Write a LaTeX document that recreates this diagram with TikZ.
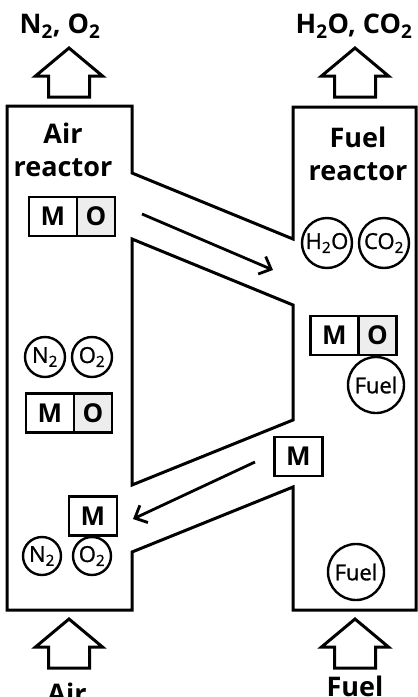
\documentclass[tikz,border=0pt]{standalone}
\usepackage{fontspec}
\setmainfont{Open Sans}
\newfontfamily\gasfont[FakeBold=1.2]{Open Sans}
\usetikzlibrary{arrows.meta,positioning}

\tikzset{
  wall/.style={line width=3pt, line join=miter},
  flow/.style={line width=2.8pt, -{Straight Barb[length=10pt,width=19pt]}},
  mpart/.style={draw, line width=2.6pt, minimum width=48, minimum height=39,
    inner sep=0pt, outer sep=0pt, font=\fontsize{26}{30}\selectfont\bfseries},
  opart/.style={mpart, minimum width=38, fill=black!7},
  gas/.style={circle, draw, line width=2.4pt, inner sep=0pt, minimum size=40,
    font=\gasfont\fontsize{22}{24}\selectfont},
  heading/.style={align=center, inner sep=0pt, font=\fontsize{27}{33}\selectfont\bfseries},
  uparrow/.pic={
    \draw[wall] (-20.5,0) -- (-20.5,-21) -- (-33.5,-21) -- (0,-49)
      -- (33.5,-21) -- (20.5,-21) -- (20.5,0) -- cycle;
  }
}

\begin{document}
\begin{tikzpicture}[x=1pt,y=-1pt]
    \useasboundingbox (0,0) rectangle (418,697);

    % reactors and loop seals
    \draw[wall] (7,106) -- (132,106) -- (132,173) -- (293,239) -- (293,107)
      -- (416,107) -- (416,610) -- (293,610) -- (293,487) -- (132,552)
      -- (132,610) -- (7,610) -- cycle;
    \draw[wall] (132,239) -- (293,305) -- (293,420) -- (132,485) -- cycle;

    % gas in and out
    \pic at (69,97) {uparrow};
    \pic at (355,97) {uparrow};
    \pic at (69,668) {uparrow};
    \pic at (355,668) {uparrow};
    \node[heading] (airout) at (60,26) {N\textsubscript{2}, O\textsubscript{2}};
    \node[heading] (fuelout) at (354,26) {H\textsubscript{2}O, CO\textsubscript{2}};
    \node[heading, anchor=base] (airin) at (67,703) {Air};
    \node[heading, anchor=base] (fuelin) at (355,696) {Fuel};

    % reactor names
    \node[heading] (airname) at (63,150) {Air\\reactor};
    \node[heading] (fuelname) at (358,154) {Fuel\\reactor};

    % air reactor
    \node[mpart] (ar1m) at (53,216.5) {M};
    \node[opart, right=0pt of ar1m] (ar1o) {O};
    \node[gas] (arn2) at (45,357) {N\textsubscript{2}};
    \node[gas] (aro2) at (92,357) {O\textsubscript{2}};
    \node[mpart] (ar2m) at (50,413) {M};
    \node[opart, right=0pt of ar2m] (ar2o) {O};
    \node[mpart] (ar3m) at (93,516) {M};
    \node[gas, minimum size=38] (arn2b) at (42,556) {N\textsubscript{2}};
    \node[gas, minimum size=38] (aro2b) at (92,556) {O\textsubscript{2}};

    % fuel reactor
    \node[gas, minimum size=50] (frh2o) at (327,243) {H\textsubscript{2}O};
    \node[gas, minimum size=50] (frco2) at (384,243) {CO\textsubscript{2}};
    \node[mpart] (fr1m) at (334.5,335.5) {M};
    \node[opart, right=0pt of fr1m] (fr1o) {O};
    \node[gas, minimum size=56] (frfuel) at (376,385) {Fuel};
    \node[mpart] (fr2m) at (298.5,456.5) {M};
    \node[gas, minimum size=56] (frfuelb) at (356,572) {Fuel};

    % solids circulation
    \coordinate (oxstart) at (142,214);
    \coordinate (oxend) at (273,270);
    \coordinate (redstart) at (255,462);
    \coordinate (redend) at (133,519);
    \draw[flow] (oxstart) -- (oxend);
    \draw[flow] (redstart) -- (redend);
\end{tikzpicture}
\end{document}
